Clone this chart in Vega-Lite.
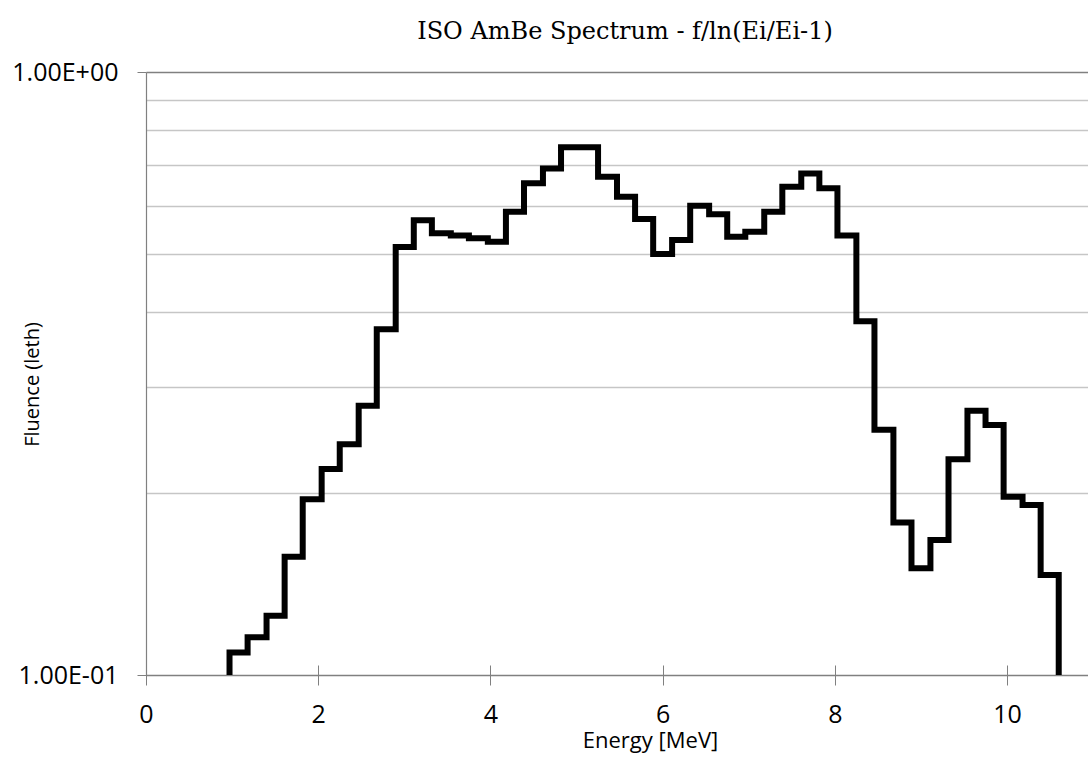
{
  "$schema": "https://vega.github.io/schema/vega-lite/v6.json",
  "width": 942,
  "height": 603,
  "autosize": {"type": "none"},
  "padding": {"left": 146, "top": 72, "right": 0, "bottom": 82},
  "background": "white",
  "title": {
    "text": "ISO AmBe Spectrum - f/ln(Ei/Ei-1)",
    "font": "DejaVu Serif",
    "fontSize": 24,
    "fontWeight": "normal",
    "color": "#000000",
    "anchor": "middle",
    "frame": "group",
    "dx": 8,
    "offset": -3,
    "baseline": "alphabetic"
  },
  "config": {"view": {"stroke": null}},
  "data": {
    "values": [
      {"energy": 0.75, "fluence": 0.09},
      {"energy": 0.97, "fluence": 0.109},
      {"energy": 1.18, "fluence": 0.1155},
      {"energy": 1.40, "fluence": 0.1254},
      {"energy": 1.61, "fluence": 0.157},
      {"energy": 1.82, "fluence": 0.1956},
      {"energy": 2.04, "fluence": 0.2196},
      {"energy": 2.25, "fluence": 0.2413},
      {"energy": 2.47, "fluence": 0.2797},
      {"energy": 2.68, "fluence": 0.3744},
      {"energy": 2.90, "fluence": 0.5127},
      {"energy": 3.11, "fluence": 0.568},
      {"energy": 3.32, "fluence": 0.540},
      {"energy": 3.54, "fluence": 0.5354},
      {"energy": 3.75, "fluence": 0.530},
      {"energy": 3.97, "fluence": 0.5232},
      {"energy": 4.18, "fluence": 0.5865},
      {"energy": 4.39, "fluence": 0.6538},
      {"energy": 4.61, "fluence": 0.692},
      {"energy": 4.82, "fluence": 0.750},
      {"energy": 5.04, "fluence": 0.750},
      {"energy": 5.25, "fluence": 0.6703},
      {"energy": 5.47, "fluence": 0.621},
      {"energy": 5.68, "fluence": 0.5705},
      {"energy": 5.89, "fluence": 0.499},
      {"energy": 6.11, "fluence": 0.5266},
      {"energy": 6.32, "fluence": 0.600},
      {"energy": 6.54, "fluence": 0.581},
      {"energy": 6.75, "fluence": 0.533},
      {"energy": 6.96, "fluence": 0.5436},
      {"energy": 7.18, "fluence": 0.5866},
      {"energy": 7.39, "fluence": 0.6454},
      {"energy": 7.61, "fluence": 0.679},
      {"energy": 7.82, "fluence": 0.6415},
      {"energy": 8.03, "fluence": 0.5354},
      {"energy": 8.25, "fluence": 0.386},
      {"energy": 8.46, "fluence": 0.255},
      {"energy": 8.68, "fluence": 0.179},
      {"energy": 8.89, "fluence": 0.1503},
      {"energy": 9.11, "fluence": 0.1675},
      {"energy": 9.32, "fluence": 0.228},
      {"energy": 9.54, "fluence": 0.2744},
      {"energy": 9.75, "fluence": 0.2598},
      {"energy": 9.96, "fluence": 0.1975},
      {"energy": 10.18, "fluence": 0.1914},
      {"energy": 10.39, "fluence": 0.1465},
      {"energy": 10.60, "fluence": 0.05}
    ]
  },
  "mark": {
    "type": "line",
    "interpolate": "step-after",
    "color": "#000000",
    "strokeWidth": 6,
    "strokeJoin": "miter",
    "strokeCap": "butt",
    "clip": true
  },
  "encoding": {
    "x": {
      "field": "energy",
      "type": "quantitative",
      "scale": {"domain": [0, 10.94], "nice": false, "zero": false},
      "axis": {
        "title": "Energy [MeV]",
        "values": [0, 2, 4, 6, 8, 10],
        "format": "d",
        "offset": -10,
        "domain": false,
        "grid": false,
        "tickSize": 20,
        "tickColor": "#808080",
        "tickWidth": 1,
        "labelFont": "Open Sans",
        "labelFontSize": 25,
        "labelColor": "#000000",
        "labelPadding": 17,
        "labelFlush": false,
        "labelOverlap": false,
        "titleFont": "Open Sans",
        "titleFontSize": 22,
        "titleFontWeight": "normal",
        "titleColor": "#000000",
        "titleX": 504,
        "titleY": 82,
        "titleAlign": "center",
        "titleBaseline": "alphabetic"
      }
    },
    "y": {
      "field": "fluence",
      "type": "quantitative",
      "scale": {"type": "log", "domain": [0.1, 1], "nice": false},
      "axis": {
        "title": "Fluence (leth)",
        "values": [0.1, 0.2, 0.3, 0.4, 0.5, 0.6, 0.7, 0.8, 0.9, 1],
        "labelExpr": "datum.value > 0.95 ? '1.00E+00' : (datum.value < 0.15 ? '1.00E-01' : '')",
        "labelFont": "Open Sans",
        "labelFontSize": 25,
        "labelColor": "#000000",
        "labelPadding": 19,
        "labelOverlap": false,
        "labelBound": false,
        "labelFlush": false,
        "tickSize": 9,
        "tickColor": "#808080",
        "tickOpacity": {"condition": {"test": "datum.value > 0.95 || datum.value < 0.15", "value": 1}, "value": 0},
        "domainColor": "#808080",
        "domainWidth": 1.2,
        "grid": true,
        "gridColor": {"condition": {"test": "datum.value > 0.95 || datum.value < 0.15", "value": "#808080"}, "value": "#c6c6c6"},
        "gridWidth": 1.5,
        "titleFont": "Open Sans",
        "titleFontSize": 20,
        "titleFontWeight": "normal",
        "titleColor": "#000000",
        "titleAngle": -90,
        "titleX": -114,
        "titleY": 312,
        "titleAlign": "center",
        "titleBaseline": "middle"
      }
    }
  }
}
